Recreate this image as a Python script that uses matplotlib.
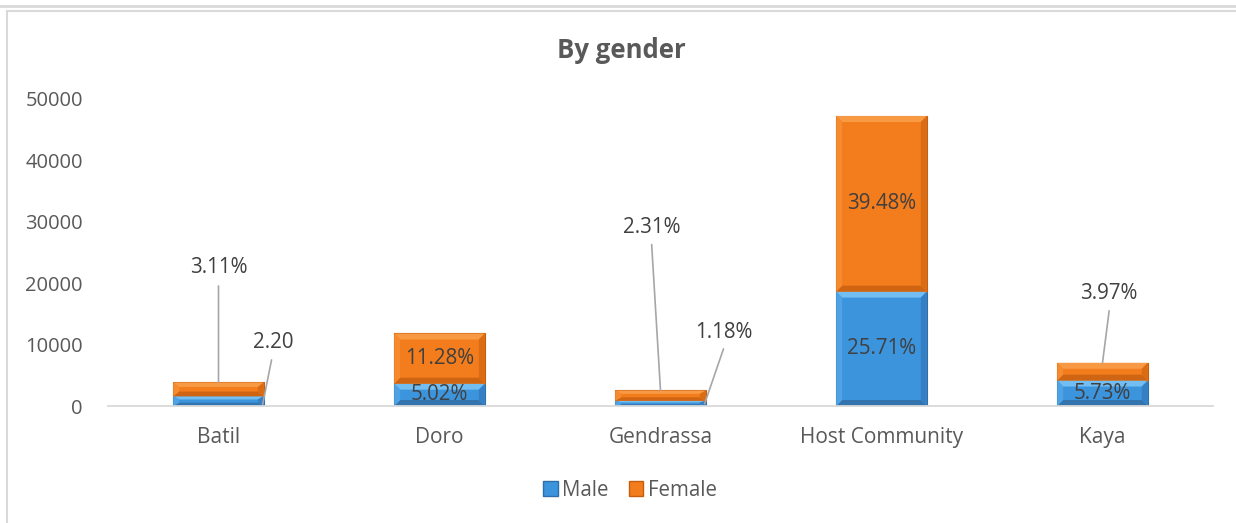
import matplotlib
matplotlib.use("Agg")
import matplotlib.pyplot as plt
from matplotlib.patches import Polygon, Rectangle, Patch
from matplotlib.lines import Line2D
import numpy as np

# ---------------- data ----------------
categories = ["Batil", "Doro", "Gendrassa", "Host Community", "Kaya"]
male_pct = [2.20, 5.02, 1.18, 25.71, 5.73]
female_pct = [3.11, 11.28, 2.31, 39.48, 3.97]
grand_total = 72450
male = [p / 100 * grand_total for p in male_pct]
female = [p / 100 * grand_total for p in female_pct]
male_labels = ["2.20", "5.02%", "1.18%", "25.71%", "5.73%"]
female_labels = ["3.11%", "11.28%", "2.31%", "39.48%", "3.97%"]
yticks = [0, 10000, 20000, 30000, 40000, 50000]

plt.rcParams['font.family'] = ['Open Sans', 'DejaVu Sans']

W, H = 1236, 523
fig = plt.figure(figsize=(W / 100, H / 100), dpi=100)
fig.patch.set_facecolor("white")

# borders
fig.add_artist(Line2D([0, 1], [1 - 5.5 / H, 1 - 5.5 / H], transform=fig.transFigure,
                      color="#D9D9D9", lw=2))
fig.add_artist(Rectangle((7 / W, -0.1), 1.2, 1.1 - 11 / H, transform=fig.transFigure,
                         fill=False, edgecolor="#D9D9D9", lw=1.5))

ax = fig.add_axes([108 / W, 1 - 406 / H, 1105 / W, 307 / H])
x = np.arange(len(categories))
bw = 0.41

blue = dict(face="#3C94DC", light="#72BDF1", dark="#3474AE", side_l="#4FA2E4", side_r="#3580C4")
orange = dict(face="#F37C1D", light="#F89A43", dark="#CF6512", side_l="#F58A2E", side_r="#DA6C14")

bars_m = ax.bar(x, male, bw, color=blue["face"], edgecolor="#2F6FA8", linewidth=0.8, zorder=2)
bars_f = ax.bar(x, female, bw, bottom=male, color=orange["face"], edgecolor="#C45E10", linewidth=0.8, zorder=2)

ax.set_xlim(-0.5, len(categories) - 0.5)
ax.set_ylim(0, 50000)

# bevel effect derived from bar geometry
px_x = (len(categories)) / 1105.0
px_y = 50000 / 307.0

def bevel(bar, c):
    x0, y0 = bar.get_x(), bar.get_y()
    w, h = bar.get_width(), bar.get_height()
    dx = 6 * px_x
    dy = min(6 * px_y, h / 3)
    dxx = min(dx, w / 3)
    x1, y1 = x0 + w, y0 + h
    polys = [
        ([(x0, y1), (x1, y1), (x1 - dxx, y1 - dy), (x0 + dxx, y1 - dy)], c["light"]),
        ([(x0, y0), (x1, y0), (x1 - dxx, y0 + dy), (x0 + dxx, y0 + dy)], c["dark"]),
        ([(x0, y0), (x0, y1), (x0 + dxx, y1 - dy), (x0 + dxx, y0 + dy)], c["side_l"]),
        ([(x1, y0), (x1, y1), (x1 - dxx, y1 - dy), (x1 - dxx, y0 + dy)], c["side_r"]),
    ]
    for pts, col in polys:
        ax.add_patch(Polygon(pts, closed=True, facecolor=col, edgecolor="none", zorder=2.5))

for b in bars_m:
    bevel(b, blue)
for b in bars_f:
    bevel(b, orange)

# axes styling
for s in ["top", "right", "left"]:
    ax.spines[s].set_visible(False)
ax.spines["bottom"].set_color("#D9D9D9")
ax.spines["bottom"].set_linewidth(1.3)
ax.set_yticks(yticks)
ax.set_yticklabels([str(t) for t in yticks])
ax.set_xticks(x)
ax.set_xticklabels(categories)
ax.tick_params(axis="both", length=0, labelsize=14.5, labelcolor="#595959")
ax.tick_params(axis="y", pad=18)
ax.tick_params(axis="x", pad=15)
ax.set_xticklabels(categories)
for lbl, size in zip(ax.get_xticklabels(), [14.5] * len(categories)):
    lbl.set_fontsize(size)
ax.tick_params(axis="x", labelsize=15)
ax.set_facecolor("none")

lab_kw = dict(fontsize=14.8, color="#404040", ha="center", va="center", zorder=5)
line_kw = dict(arrowstyle="-", color="#A6A6A6", lw=1.2, shrinkA=0, shrinkB=0)

# inside labels
for i in [1, 3]:
    ax.text(x[i], male[i] / 2, male_labels[i], **lab_kw)
    ax.text(x[i], male[i] + female[i] / 2, female_labels[i], **lab_kw)
ax.text(x[4], male[4] / 2, male_labels[4], **lab_kw)

# callout labels (label position, leader start, leader end)
callouts = [
    (female_labels[0], (x[0], 22480), (x[0], 19550), (x[0], male[0] + female[0])),
    (male_labels[0], (x[0] + 0.25, 10420), (x[0] + 0.24, 7500), (x[0] + 0.20, 300)),
    (female_labels[2], (x[2] - 0.04, 29000), (x[2] - 0.04, 26300), (x[2], male[2] + female[2])),
    (male_labels[2], (x[2] + 0.285, 12050), (x[2] + 0.285, 9300), (x[2] + 0.20, 400)),
    (female_labels[4], (x[4] + 0.03, 18400), (x[4] + 0.03, 15500), (x[4], male[4] + female[4])),
]
for txt, tpos, lstart, lend in callouts:
    ax.text(tpos[0], tpos[1], txt, **lab_kw)
    ax.annotate("", xy=lend, xytext=lstart, arrowprops=line_kw, zorder=4)

# title
fig.text(621 / W, 1 - 50 / H, "By gender", ha="center", va="center", fontsize=18.5,
         fontweight="bold", color="#595959")

# legend
handles = [Patch(facecolor=blue["face"], edgecolor="#2F6FA8", label="Male"),
           Patch(facecolor=orange["face"], edgecolor="#C45E10", label="Female")]
fig.legend(handles=handles, loc="center", bbox_to_anchor=(630 / W, 1 - 490 / H), ncol=2,
           frameon=False, fontsize=14.8, labelcolor="#595959", handlelength=0.7,
           handleheight=0.7, handletextpad=0.2, columnspacing=1.0)

fig.savefig("out.png", dpi=100, facecolor="white")
